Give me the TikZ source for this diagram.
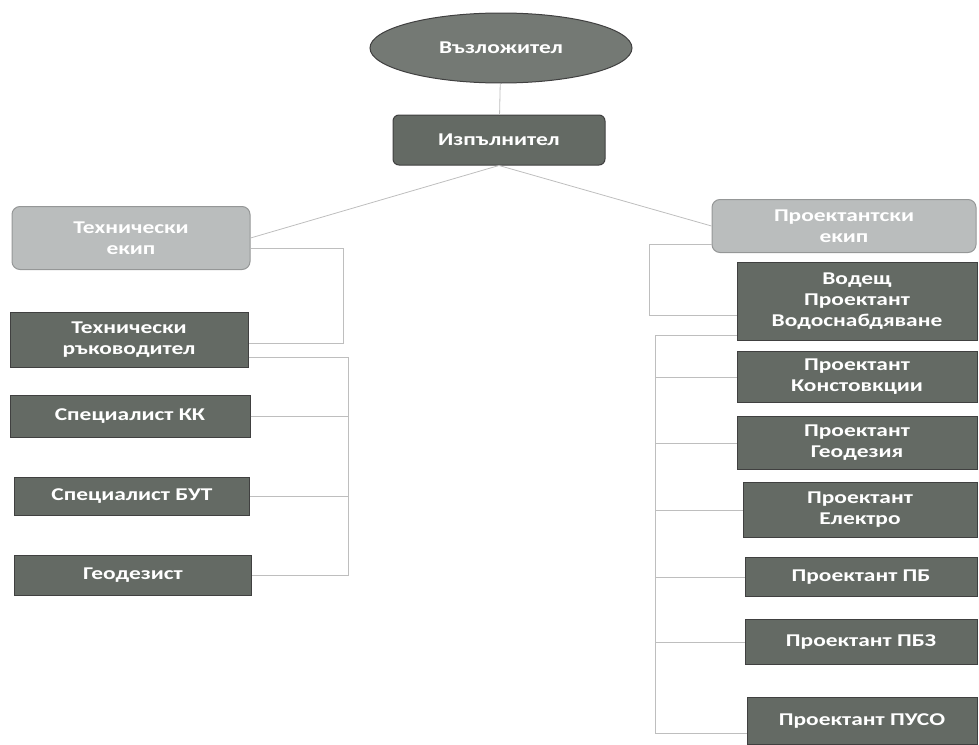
\documentclass[tikz,border=0pt]{standalone}
\usepackage{fontspec}
\setmainfont{Carlito}[FakeStretch=1.3]
\usetikzlibrary{shapes.geometric}
\definecolor{boxdark}{RGB}{100,106,100}
\definecolor{boxlight}{RGB}{186,189,189}
\definecolor{linegray}{RGB}{190,190,190}
\tikzset{
    dark/.style={draw=black!75,fill=boxdark,text=white,font=\fontsize{18}{21}\selectfont\bfseries,
      align=center,inner sep=2pt,minimum width=238pt,line width=1pt},
    light/.style={dark,draw=boxlight!80!black,fill=boxlight,rounded corners=8pt},
    conn/.style={draw=linegray,line width=0.8pt},
  }
\begin{document}
\begin{tikzpicture}[x=1pt,y=-1pt]
				  %cadre
				  \useasboundingbox (0,0) rectangle (979,744);
				  %sommet
				  \node[dark,ellipse,minimum width=262pt,minimum height=70pt,fill=boxdark!90!white] (V) at (501,48) {Възложител};
				  \node[dark,rounded corners=6pt,minimum width=212pt,minimum height=50pt] (I) at (499,140) {Изпълнител};
				  \node[light,minimum height=63pt] (T) at (131,238) {Технически\\екип};
				  \node[light,minimum width=264pt,minimum height=53pt] (P) at (844,226) {Проектантски\\екип};
				  %gauche
				  \node[dark,minimum height=55pt] (T1) at (129,340) {Технически\\ръководител};
				  \node[dark,minimum width=240pt,minimum height=42pt] (T2) at (130,416) {Специалист КК};
				  \node[dark,minimum width=235pt,minimum height=38pt] (T3) at (132,496) {Специалист БУТ};
				  \node[dark,minimum width=237pt,minimum height=40pt] (T4) at (133,575) {Геодезист};
				  %droite
				  \node[dark,minimum width=240pt,minimum height=78pt] (P1) at (857,301) {Водещ\\Проектант\\Водоснабдяване};
				  \node[dark,minimum width=240pt,minimum height=51pt] (P2) at (857,377) {Проектант\\Констовкции};
				  \node[dark,minimum width=240pt,minimum height=53pt] (P3) at (857,443) {Проектант\\Геодезия};
				  \node[dark,minimum width=234pt,minimum height=55pt] (P4) at (860,510) {Проектант\\Електро};
				  \node[dark,minimum width=232pt,minimum height=39pt] (P5) at (861,577) {Проектант ПБ};
				  \node[dark,minimum width=232pt,minimum height=45pt] (P6) at (861,642) {Проектант ПБЗ};
				  \node[dark,minimum width=230pt,minimum height=47pt] (P7) at (862,721) {Проектант ПУСО};

				  \coordinate (L) at (348,357);
				  \coordinate (R) at (655,335);

				  \draw[conn] (V) -- (I) (I.south) -- (T.east) (I.south) -- (P.west);
				  \draw[conn] ([yshift=-10pt]T.east) -| ([xshift=95pt,yshift=-3pt]T1.east) -- ([yshift=-3pt]T1.east);
				  \draw[conn] ([yshift=-17pt]T1.east) -- (L) |- (T4.east);
				  \foreach \n in {T2,T3} \draw[conn] (\n.east) -- (\n.east -| L);
				  \draw[conn] ([yshift=-18pt]P.west) -| ([xshift=-87pt,yshift=-14pt]P1.west) -- ([yshift=-14pt]P1.west);
				  \draw[conn] ([yshift=-34pt]P1.west) -- (R) |- ([yshift=-12pt]P7.west);
				  \foreach \n in {P2,P3,P4,P5,P6} \draw[conn] (\n.west) -- (\n.west -| R);
				  \end{tikzpicture}
\end{document}
